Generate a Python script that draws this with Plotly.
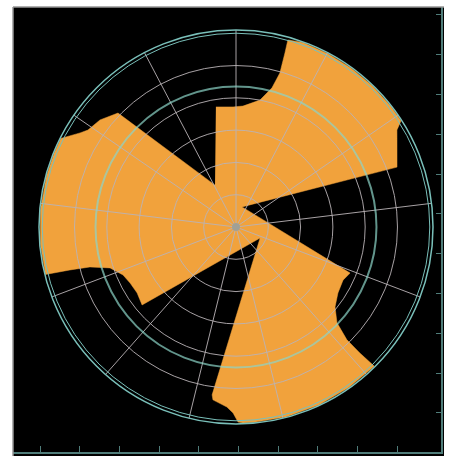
import plotly.graph_objects as go

# ---- data (polar: theta in degrees CCW from east, r in grid units) ----
shape_theta = [99.5, 91.4, 86.7, 79.3, 75.5, 74.1, 74.3, 74.5, 70, 62, 54, 46, 38, 32.8,
               31.1, 29.2, 20.4, 73.3, 338.0, 333.6, 327.1, 321.1, 316.5, 314.5, 314.5,
               314.8, 305, 295, 285, 275, 272.0, 270.6, 269.1, 267.1, 262.4, 261.9, 335.4,
               219.7, 213.7, 207.9, 203.0, 198.0, 195.3, 194.5, 194.0, 185, 175, 165, 158,
               153.2, 148.9, 146.8, 141.8, 136.0, 116.6]
shape_r = [3.77, 3.72, 3.75, 4.00, 4.45, 4.96, 5.60, 6.01, 6.08, 6.08, 6.08, 6.08, 6.08, 6.08,
           5.82, 5.71, 5.32, 0.65, 3.81, 3.70, 3.76, 3.94, 4.31, 4.90, 5.47,
           6.08, 6.08, 6.08, 6.08, 6.08, 6.07, 6.04, 5.76, 5.58, 5.40, 5.25, 0.82,
           3.78, 3.68, 3.71, 3.80, 4.10, 4.69, 5.31, 6.08, 6.08, 6.08, 6.08, 6.08,
           6.08, 5.64, 5.48, 5.36, 5.08, 1.45]

ring_values = [1, 2, 3, 4, 5]
outer_ring_values = [6.0]
thick_ring_values = [4.35]
spoke_angles = [6.9, 34.6, 62.3, 90.0, 117.7, 145.4, 173.1, 200.8, 228.5, 256.2, 283.8, 311.5, 339.2]
radial_max = 6.1

x_ticks = [0, 1, 2, 3, 4, 5, 6, 7, 8, 9]
y_ticks = [0, 1, 2, 3, 4, 5, 6, 7, 8, 9, 10]

ORANGE = "#F1A23C"
GRID = "rgba(185,178,182,0.9)"
CYAN = "rgb(122,192,186)"
THICK = "rgba(140,212,200,0.7)"
TEAL = "rgb(80,125,122)"

fig = go.Figure()

# frame (cartesian) dummy trace so the axes are drawn
fig.add_trace(go.Scatter(x=[0], y=[0], mode="markers", marker=dict(opacity=0),
                         hoverinfo="skip", showlegend=False))

fig.add_trace(go.Scatterpolar(r=shape_r, theta=shape_theta, mode="lines", fill="toself",
                              fillcolor=ORANGE, line=dict(color=ORANGE, width=0.5),
                              subplot="polar", hoverinfo="skip", showlegend=False))
# overlay subplots carrying grid lines above the fill
fig.add_trace(go.Scatterpolar(r=[0], theta=[0], mode="markers",
                              marker=dict(size=1, opacity=0), subplot="polar2",
                              hoverinfo="skip", showlegend=False))
fig.add_trace(go.Scatterpolar(r=[0], theta=[0], mode="markers",
                              marker=dict(size=1, opacity=0), subplot="polar3",
                              hoverinfo="skip", showlegend=False))
fig.add_trace(go.Scatterpolar(r=[0], theta=[0], mode="markers",
                              marker=dict(size=8, color="rgb(160,160,150)"), subplot="polar4",
                              hoverinfo="skip", showlegend=False))

dom_x = [26 / 428, 420 / 428]
dom_y = [28 / 445, 422 / 445]


def polar_cfg(bg, rvals, rcolor, rwidth, show_spokes, show_outer):
    return dict(
        domain=dict(x=dom_x, y=dom_y),
        bgcolor=bg,
        radialaxis=dict(range=[0, radial_max], tickmode="array", tickvals=rvals,
                        showgrid=len(rvals) > 0, gridcolor=rcolor, gridwidth=rwidth,
                        showline=False, showticklabels=False, ticks=""),
        angularaxis=dict(tickmode="array", tickvals=spoke_angles, showgrid=show_spokes,
                         gridcolor=GRID, gridwidth=1.3, showline=show_outer,
                         linecolor=CYAN, linewidth=1.5, showticklabels=False, ticks="",
                         rotation=0, direction="counterclockwise"),
    )


fig.update_layout(
    width=451, height=459,
    margin=dict(l=13, r=10, t=7, b=7),
    paper_bgcolor="white",
    plot_bgcolor="black",
    showlegend=False,
    xaxis=dict(range=[-0.68, 10.1], tickmode="array", tickvals=x_ticks, ticks="inside",
               ticklen=6, tickcolor=TEAL, tickwidth=1, showticklabels=False, showgrid=False,
               zeroline=False, showline=True, linecolor=TEAL, linewidth=1.5, fixedrange=True),
    yaxis=dict(range=[-0.98, 10.2], tickmode="array", tickvals=y_ticks, ticks="inside",
               ticklen=5, tickcolor=TEAL, tickwidth=1, side="right", showticklabels=False,
               showgrid=False, zeroline=False, showline=True, linecolor=TEAL, linewidth=1.5,
               fixedrange=True),
    polar=polar_cfg("black", [], GRID, 1, False, False),
    polar2=polar_cfg("rgba(0,0,0,0)", ring_values, GRID, 1.3, True, False),
    polar3=polar_cfg("rgba(0,0,0,0)", thick_ring_values, THICK, 2.2, False, False),
    polar4=polar_cfg("rgba(0,0,0,0)", outer_ring_values, CYAN, 1.2, False, True),
    shapes=[
        dict(type="rect", xref="paper", yref="paper", x0=0, x1=431 / 428, y0=-4 / 445, y1=1,
             fillcolor="black", line=dict(width=0), layer="below"),
        dict(type="line", xref="paper", yref="paper", x0=0, x1=431 / 428, y0=1, y1=1,
             line=dict(color="rgb(150,150,150)", width=1.5)),
        dict(type="line", xref="paper", yref="paper", x0=0, x1=0, y0=-4 / 445, y1=1,
             line=dict(color="rgb(150,150,150)", width=1.5)),
    ],
)

fig.write_html("out.html")
